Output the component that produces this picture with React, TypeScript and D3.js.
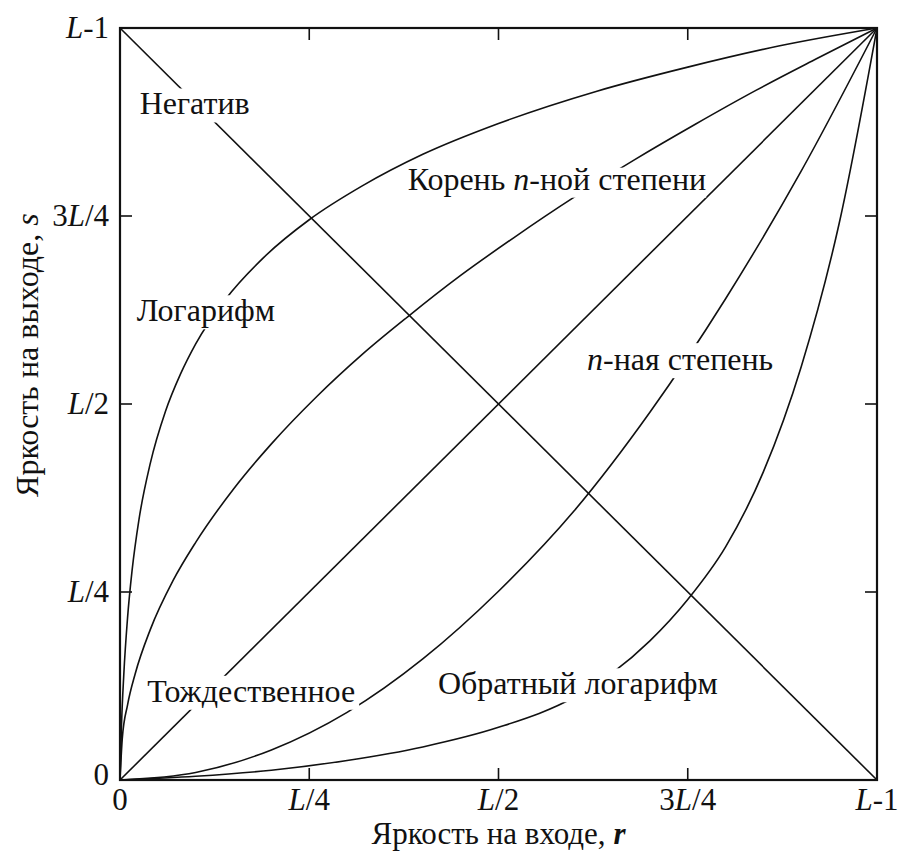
import React, { useEffect, useRef } from "react";
import * as d3 from "d3";

// tick positions (fraction of L-1) and their labels
const tickValues = [0, 0.25, 0.5, 0.75, 1];
const tickLabels = [
  [{ t: "0" }],
  [{ t: "L", i: true }, { t: "/4" }],
  [{ t: "L", i: true }, { t: "/2" }],
  [{ t: "3" }, { t: "L", i: true }, { t: "/4" }],
  [{ t: "L", i: true }, { t: "-1" }],
];

// curves: input r -> output s
const logR = [0, 0.002, 0.005, 0.01, 0.016, 0.025, 0.04, 0.06, 0.08, 0.1, 0.14, 0.19, 0.25, 0.32, 0.4, 0.5, 0.63, 0.75, 0.87, 1];
const logS = [0, 0.073, 0.14, 0.216, 0.279, 0.346, 0.421, 0.49, 0.54, 0.58, 0.64, 0.695, 0.745, 0.79, 0.832, 0.873, 0.916, 0.948, 0.976, 1];

const rootR = [0, 0.003, 0.01, 0.02, 0.04, 0.07, 0.1, 0.15, 0.2, 0.26, 0.32, 0.38, 0.45, 0.52, 0.6, 0.68, 0.76, 0.84, 0.92, 1];
const rootS = [0, 0.055, 0.1, 0.141, 0.2, 0.265, 0.316, 0.387, 0.447, 0.51, 0.566, 0.616, 0.671, 0.721, 0.775, 0.825, 0.872, 0.917, 0.959, 1];

const identR = [0, 1];
const identS = [0, 1];

const negR = [0, 1];
const negS = [1, 0];

const powR = [0, 0.1, 0.2, 0.3, 0.4, 0.5, 0.6, 0.7, 0.8, 0.9, 1];
const powS = [0, 0.01, 0.04, 0.09, 0.161, 0.251, 0.358, 0.489, 0.64, 0.81, 1];

const invLogR = [0, 0.1, 0.2, 0.3, 0.4, 0.5, 0.6, 0.65, 0.7, 0.75, 0.8, 0.85, 0.9, 0.95, 1];
const invLogS = [0, 0.005, 0.013, 0.026, 0.044, 0.07, 0.11, 0.142, 0.185, 0.24, 0.31, 0.41, 0.55, 0.74, 1];

const series = [
  [logR, logS],
  [rootR, rootS],
  [identR, identS],
  [negR, negS],
  [powR, powS],
  [invLogR, invLogS],
];

// curve labels: data position (r, s) of the text start/baseline
const labels = [
  { parts: [{ t: "Негатив" }], r: 0.026, s: 0.885, padT: 3 },
  { parts: [{ t: "Логарифм" }], r: 0.022, s: 0.61, padT: 3 },
  { parts: [{ t: "Корень " }, { t: "n", i: true }, { t: "-ной степени" }], r: 0.38, s: 0.785, padR: 0, padT: 7 },
  { parts: [{ t: "n", i: true }, { t: "-ная степень" }], r: 0.617, s: 0.545, padT: 2 },
  { parts: [{ t: "Тождественное" }], r: 0.036, s: 0.104, padT: 3 },
  { parts: [{ t: "Обратный логарифм" }], r: 0.42, s: 0.114, padT: 3 },
];

const W = 900;
const H = 854;
const FONT = "'Liberation Serif', 'DejaVu Serif', serif";

export default function App() {
  const svgRef = useRef<SVGSVGElement>(null);

  useEffect(() => {
    if (!svgRef.current) return;
    const svg = d3.select(svgRef.current);
    svg.selectAll("*").remove();

    const margin = { top: 28, right: 23, bottom: 74, left: 120 };
    const x = d3.scaleLinear().domain([0, 1]).range([margin.left, W - margin.right]);
    const y = d3.scaleLinear().domain([0, 1]).range([H - margin.bottom, margin.top]);

    svg.append("rect").attr("width", W).attr("height", H).attr("fill", "#fff");

    const line = d3
      .line<[number, number]>()
      .x((d) => x(d[0]))
      .y((d) => y(d[1]))
      .curve(d3.curveMonotoneX);

    const g = svg.append("g");
    series.forEach(([rs, ss]) => {
      const pts = rs.map((r, i) => [r, ss[i]] as [number, number]);
      g.append("path")
        .attr("d", line(pts))
        .attr("fill", "none")
        .attr("stroke", "#111")
        .attr("stroke-width", 1.6);
    });

    const addParts = (t: any, parts: any[]) =>
      parts.forEach((p) => t.append("tspan").attr("font-style", p.i ? "italic" : null).text(p.t));

    // labels with white knock-out boxes that break the curves
    const lg = svg.append("g");
    labels.forEach((lb: any) => {
      const t = lg
        .append("text")
        .attr("x", x(lb.r))
        .attr("y", y(lb.s))
        .attr("font-family", FONT)
        .attr("font-size", 32)
        .attr("fill", "#111");
      addParts(t, lb.parts);
      const bb = (t.node() as SVGTextElement).getBBox();
      const padR = lb.padR ?? 4;
      const padT = lb.padT ?? 0;
      lg.insert("rect", () => t.node())
        .attr("x", bb.x - 4)
        .attr("y", bb.y + padT)
        .attr("width", bb.width + 4 + padR)
        .attr("height", bb.height - padT + 1)
        .attr("fill", "#fff");
    });

    // frame
    svg.append("rect")
      .attr("x", x(0))
      .attr("y", y(1))
      .attr("width", x(1) - x(0))
      .attr("height", y(0) - y(1))
      .attr("fill", "none")
      .attr("stroke", "#111")
      .attr("stroke-width", 2.2);

    // inward ticks on all four sides
    const tk = 12;
    const inner = tickValues.slice(1, -1);
    inner.forEach((v) => {
      const ax = svg.append("g").attr("stroke", "#111").attr("stroke-width", 1.6);
      ax.append("line").attr("x1", x(v)).attr("x2", x(v)).attr("y1", y(0)).attr("y2", y(0) - tk);
      ax.append("line").attr("x1", x(v)).attr("x2", x(v)).attr("y1", y(1)).attr("y2", y(1) + tk);
      ax.append("line").attr("x1", x(0)).attr("x2", x(0) + tk).attr("y1", y(v)).attr("y2", y(v));
      ax.append("line").attr("x1", x(1)).attr("x2", x(1) - tk).attr("y1", y(v)).attr("y2", y(v));
    });

    // tick labels
    tickValues.forEach((v, i) => {
      const bt = svg.append("text")
        .attr("x", x(v))
        .attr("y", y(0) + 30)
        .attr("text-anchor", "middle")
        .attr("font-family", FONT)
        .attr("font-size", 31)
        .attr("fill", "#111");
      addParts(bt, tickLabels[i]);
      const lt = svg.append("text")
        .attr("x", x(0) - 11)
        .attr("y", y(v) + (i === 0 ? 5 : 10))
        .attr("text-anchor", "end")
        .attr("font-family", FONT)
        .attr("font-size", 31)
        .attr("fill", "#111");
      addParts(lt, tickLabels[i]);
    });

    // axis titles
    const xt = svg.append("text")
      .attr("x", x(0.5))
      .attr("y", H - 10)
      .attr("text-anchor", "middle")
      .attr("font-family", FONT)
      .attr("font-size", 31)
      .attr("fill", "#111");
    xt.append("tspan").text("Яркость на входе, ");
    xt.append("tspan").attr("font-style", "italic").attr("font-weight", "bold").text("r");

    const yt = svg.append("text")
      .attr("transform", `translate(38,${y(0.565)}) rotate(-90)`)
      .attr("text-anchor", "middle")
      .attr("font-family", FONT)
      .attr("font-size", 32)
      .attr("fill", "#111");
    yt.append("tspan").text("Яркость на выходе, ");
    yt.append("tspan").attr("font-style", "italic").text("s");
  }, []);

  return (
    <svg
      ref={svgRef}
      width={W}
      height={H}
      viewBox={`0 0 ${W} ${H}`}
      style={{ position: "absolute", left: 0, top: 0, display: "block" }}
    />
  );
}
